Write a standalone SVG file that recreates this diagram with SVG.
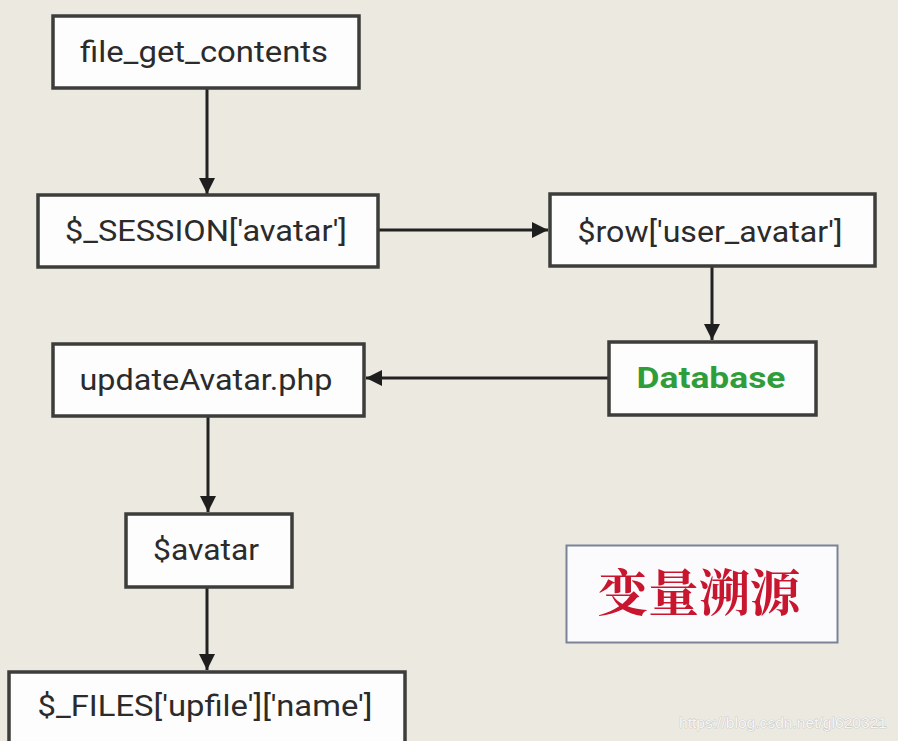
<svg xmlns="http://www.w3.org/2000/svg" width="898" height="741" viewBox="0 0 898 741">
<defs>
<style>
.box{fill:#fdfdfd;stroke:#3d3d3b;stroke-width:3.5}
.lbl{font-family:Roboto,"Liberation Sans",sans-serif;font-size:30px;fill:#2b2b2b;text-anchor:middle}
.db{font-family:Roboto,"Liberation Sans",sans-serif;font-size:30px;font-weight:bold;fill:#2f9e3a;text-anchor:middle}
.cn{font-family:"Noto Serif CJK SC","Liberation Serif","Noto Sans CJK SC",serif;font-size:50px;font-weight:bold;fill:#c8162f;text-anchor:middle}
.wm{font-family:"Liberation Sans",Arial,sans-serif;font-size:15px;fill:#f6f6f6;stroke:#b8b8b8;stroke-width:0.6;paint-order:stroke}
.edge{stroke:#222;stroke-width:3;fill:none;marker-end:url(#ah)}
</style>
<marker id="ah" viewBox="0 0 10 10" refX="10" refY="5" markerWidth="16" markerHeight="16" markerUnits="userSpaceOnUse" orient="auto">
<path d="M0,0 L10,5 L0,10 z" fill="#1e1e1e"/>
</marker>
</defs>
<rect width="898" height="741" fill="#ebe9e0"/>
<g id="connectors">
<line class="edge" x1="207" y1="89" x2="207" y2="194"/>
<line class="edge" x1="379" y1="230" x2="548" y2="230"/>
<line class="edge" x1="712" y1="267" x2="712" y2="340"/>
<line class="edge" x1="608" y1="378" x2="366" y2="378"/>
<line class="edge" x1="208" y1="417" x2="208" y2="512"/>
<line class="edge" x1="207" y1="588" x2="207" y2="670"/>
</g>
<g id="file_get_contents">
<rect class="box" x="53" y="16" width="306" height="72"/>
<text class="lbl" x="204" y="62" textLength="248" lengthAdjust="spacingAndGlyphs">file_get_contents</text>
</g>
<g id="session_avatar">
<rect class="box" x="38" y="195" width="340" height="72"/>
<text class="lbl" x="206" y="241" textLength="282" lengthAdjust="spacingAndGlyphs">$_SESSION['avatar']</text>
</g>
<g id="row_user_avatar">
<rect class="box" x="550" y="194" width="325" height="72"/>
<text class="lbl" x="710" y="242" textLength="265" lengthAdjust="spacingAndGlyphs">$row['user_avatar']</text>
</g>
<g id="database">
<rect class="box" x="609" y="342" width="207" height="73"/>
<text class="db" x="711" y="388" textLength="149" lengthAdjust="spacingAndGlyphs">Database</text>
</g>
<g id="updateAvatar">
<rect class="box" x="53" y="344" width="311" height="72"/>
<text class="lbl" x="206" y="390" textLength="253" lengthAdjust="spacingAndGlyphs">updateAvatar.php</text>
</g>
<g id="avatar">
<rect class="box" x="126" y="514" width="166" height="73"/>
<text class="lbl" x="206" y="560" textLength="106" lengthAdjust="spacingAndGlyphs">$avatar</text>
</g>
<g id="files_upfile_name">
<rect class="box" x="9" y="672" width="396" height="80"/>
<text class="lbl" x="205" y="716" textLength="335" lengthAdjust="spacingAndGlyphs">$_FILES['upfile']['name']</text>
</g>
<g id="title">
<rect x="566.5" y="545.5" width="271" height="97" fill="#fbfbfd" stroke="#7b8497" stroke-width="2"/>
<text class="cn" x="699" y="611" textLength="203" lengthAdjust="spacingAndGlyphs">变量溯源</text>
</g>
<text class="wm" x="679" y="728" textLength="208" lengthAdjust="spacingAndGlyphs">https://blog.csdn.net/gl620321</text>
</svg>
